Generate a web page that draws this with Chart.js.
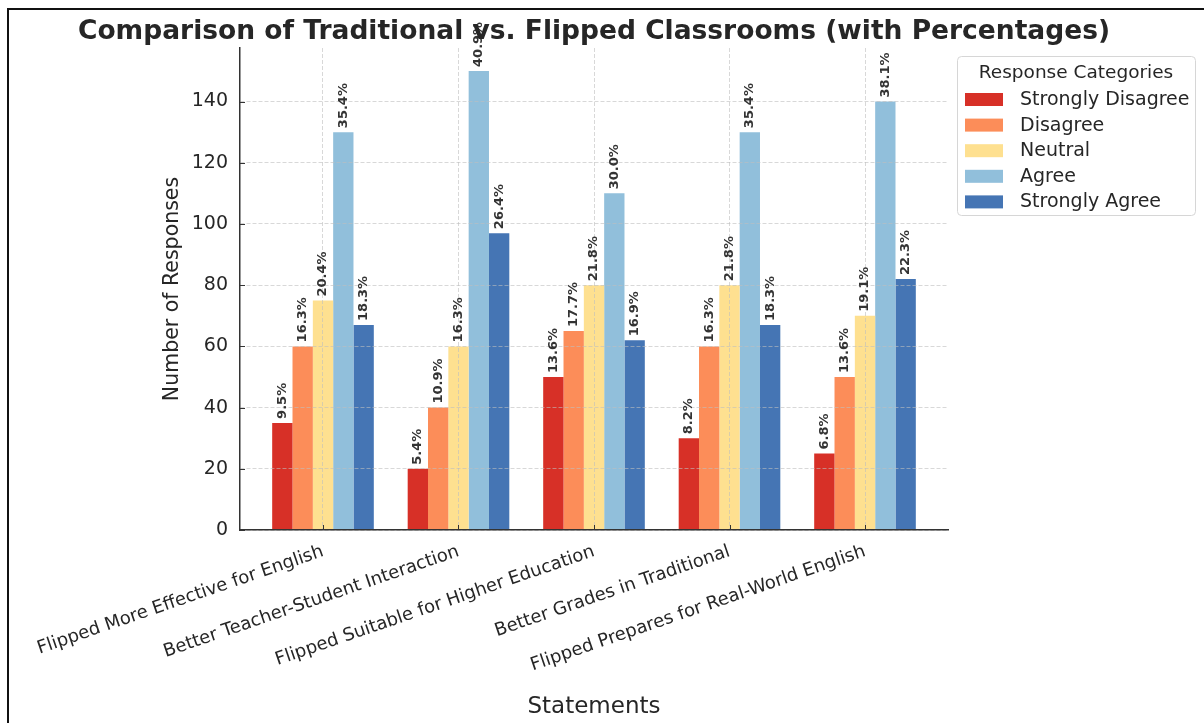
<!DOCTYPE html>
<html>
<head>
<meta charset="utf-8">
<title>Traditional vs. Flipped Classrooms</title>
<script src="https://cdn.jsdelivr.net/npm/chart.js@4.4.0/dist/chart.umd.min.js"></script>
<style>
  html, body { margin: 0; padding: 0; background: #fff; }
  canvas { display: block; }
</style>
</head>
<body>
<canvas id="responsesChart" width="1204" height="723"></canvas>
<script>
// Survey data: responses per statement
const statements = [
    'Flipped More Effective for English',
    'Better Teacher-Student Interaction',
    'Flipped Suitable for Higher Education',
    'Better Grades in Traditional',
    'Flipped Prepares for Real-World English'
];
const categories = ['Strongly Disagree', 'Disagree', 'Neutral', 'Agree', 'Strongly Agree'];
const stronglyDisagree = [35, 20, 50, 30, 25];
const disagree = [60, 40, 65, 60, 50];
const neutral = [75, 60, 80, 80, 70];
const agree = [130, 150, 110, 130, 140];
const stronglyAgree = [67, 97, 62, 67, 82];
const yTicks = [0, 20, 40, 60, 80, 100, 120, 140];
const colors = ['#d73027', '#fc8d59', '#fee090', '#91bfdb', '#4575b4'];

const series = [stronglyDisagree, disagree, neutral, agree, stronglyAgree];
const totals = statements.map((_, i) => series.reduce((acc, s) => acc + s[i], 0));

const FONT = "'DejaVu Sans', sans-serif";
const textColor = '#262626';

// Percentage labels above each bar, title, frame and legend
const decorations = {
    id: 'decorations',
    afterDraw(chart) {
        const ctx = chart.ctx;
        const area = chart.chartArea;

        // bar labels
        ctx.save();
        ctx.font = 'bold 13px ' + FONT;
        ctx.fillStyle = '#333';
        ctx.textAlign = 'left';
        ctx.textBaseline = 'middle';
        chart.data.datasets.forEach((ds, di) => {
            const meta = chart.getDatasetMeta(di);
            meta.data.forEach((bar, i) => {
                const pct = (ds.data[i].y / totals[i] * 100).toFixed(1) + '%';
                ctx.save();
                ctx.translate(bar.x, bar.y - 4);
                ctx.rotate(-Math.PI / 2);
                ctx.fillText(pct, 0, 0);
                ctx.restore();
            });
        });
        ctx.restore();

        // inward tick marks
        ctx.save();
        ctx.strokeStyle = '#333';
        ctx.lineWidth = 1;
        const ys = chart.scales.y, xs = chart.scales.x;
        ys.ticks.forEach(t => {
            const py = Math.round(ys.getPixelForValue(t.value)) + 0.5;
            ctx.beginPath(); ctx.moveTo(area.left, py); ctx.lineTo(area.left + 5, py); ctx.stroke();
        });
        xs.ticks.forEach(t => {
            const px = Math.round(xs.getPixelForValue(t.value)) + 0.5;
            ctx.beginPath(); ctx.moveTo(px, area.bottom); ctx.lineTo(px, area.bottom - 5); ctx.stroke();
        });
        ctx.restore();

        // title
        ctx.save();
        ctx.font = 'bold 26.5px ' + FONT;
        ctx.fillStyle = textColor;
        ctx.textAlign = 'center';
        ctx.textBaseline = 'middle';
        ctx.fillText('Comparison of Traditional vs. Flipped Classrooms (with Percentages)', (area.left + area.right) / 2, 32);
        ctx.restore();

        // frame lines
        ctx.save();
        ctx.strokeStyle = '#111';
        ctx.lineWidth = 2;
        ctx.beginPath();
        ctx.moveTo(8, 723); ctx.lineTo(8, 9); ctx.lineTo(1204, 9);
        ctx.stroke();
        ctx.restore();

        // legend
        const lx = 957, ly = 56, lw = 238, lh = 159;
        ctx.save();
        ctx.fillStyle = 'rgba(255,255,255,0.8)';
        ctx.strokeStyle = '#d6d6d6';
        ctx.lineWidth = 1;
        ctx.beginPath();
        ctx.roundRect(lx + 0.5, ly + 0.5, lw, lh, 4);
        ctx.fill();
        ctx.stroke();
        ctx.fillStyle = textColor;
        ctx.textBaseline = 'middle';
        ctx.textAlign = 'center';
        ctx.font = '18.5px ' + FONT;
        ctx.fillText('Response Categories', lx + lw / 2, ly + 17);
        ctx.textAlign = 'left';
        ctx.font = '19px ' + FONT;
        chart.data.datasets.forEach((ds, di) => {
            const cy = ly + 43 + di * 25.6;
            ctx.fillStyle = ds.backgroundColor;
            ctx.fillRect(lx + 8, cy - 6, 38, 13);
            ctx.fillStyle = textColor;
            ctx.fillText(ds.label, lx + 63, cy + 1);
        });
        ctx.restore();
    }
};

const ctx = document.getElementById('responsesChart').getContext('2d');
const responsesChart = new Chart(ctx, {
    type: 'bar',
    data: {
        datasets: categories.map((name, di) => ({
            label: name,
            data: series[di].map((v, i) => ({ x: i, y: v })),
            backgroundColor: colors[di],
            borderWidth: 0,
            categoryPercentage: 0.75,
            barPercentage: 1.0
        }))
    },
    options: {
        responsive: false,
        animation: false,
        devicePixelRatio: 1,
        layout: { padding: { left: 156, right: 256, top: 48, bottom: 0 } },
        plugins: {
            legend: { display: false },
            tooltip: { enabled: false },
            title: { display: false }
        },
        scales: {
            x: {
                type: 'linear',
                offset: false,
                min: -0.6125,
                max: 4.6125,
                afterBuildTicks: axis => { axis.ticks = statements.map((_, i) => ({ value: i })); },
                afterFit: scale => {
                    scale.height = 193;
                    scale.paddingLeft = 0;
                    scale.paddingRight = 0;
                },
                ticks: {
                    autoSkip: false,
                    minRotation: 19,
                    maxRotation: 19,
                    padding: 11,
                    color: textColor,
                    font: { family: FONT, size: 18 },
                    callback: value => statements[value]
                },
                grid: {
                    z: 1,
                    offset: false,
                    color: 'rgba(190,190,190,0.6)',
                    lineWidth: 1,
                    drawTicks: false
                },
                border: { z: 2, color: '#333', width: 1.5, dash: [4, 2] },
                title: {
                    display: true,
                    text: 'Statements',
                    color: textColor,
                    font: { family: FONT, size: 23 },
                    padding: { top: 4, bottom: 2 }
                }
            },
            y: {
                min: 0,
                max: 157.5,
                afterBuildTicks: axis => { axis.ticks = yTicks.map(v => ({ value: v })); },
                afterFit: scale => {
                    scale.width = 84;
                    scale.paddingTop = 0;
                    scale.paddingBottom = 0;
                },
                ticks: {
                    padding: 12,
                    color: textColor,
                    font: { family: FONT, size: 19 }
                },
                grid: {
                    z: 1,
                    color: 'rgba(190,190,190,0.6)',
                    lineWidth: 1,
                    drawTicks: false
                },
                border: { z: 2, color: '#333', width: 1.5, dash: [4, 2] },
                title: {
                    display: true,
                    text: 'Number of Responses',
                    color: textColor,
                    font: { family: FONT, size: 20.5 },
                    padding: { top: 4, bottom: 4 }
                }
            }
        }
    },
    plugins: [decorations]
});
</script>
</body>
</html>
